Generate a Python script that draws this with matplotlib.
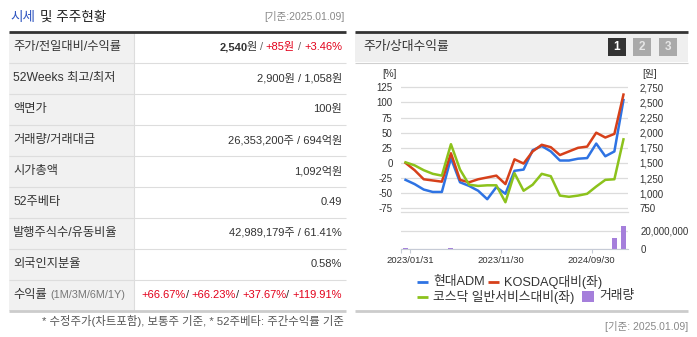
import matplotlib
matplotlib.use('Agg')
import matplotlib.pyplot as plt
from matplotlib.patches import Rectangle
from matplotlib.ticker import FuncFormatter
import numpy as np

plt.rcParams['font.family'] = ['Liberation Sans', 'Noto Sans CJK KR', 'DejaVu Sans']
plt.rcParams['axes.unicode_minus'] = False

# ---------------- data ----------------
dates = ["2023/01/09", "2023/01/31", "2023/02/28", "2023/03/31", "2023/04/28", "2023/05/31",
         "2023/06/30", "2023/07/31", "2023/08/31", "2023/09/27", "2023/10/31", "2023/11/30",
         "2023/12/28", "2024/01/31", "2024/02/29", "2024/03/29", "2024/04/30", "2024/05/31",
         "2024/06/28", "2024/07/31", "2024/08/30", "2024/09/30", "2024/10/31", "2024/11/29",
         "2025/01/09"]
hyundai = [-28, -35, -44, -48, -48, 8, -32, -38, -46, -60, -40, -51, -13, -11, 21, 28, 19, 4, 4, 7, 8,
           32, 11, 19, 104]
kosdaq_rel = [0, -12, -27, -29, -31, 16, -28, -32, -27, -24, -21, -35, 6, -1, 19, 30, 26, 13, 19, 25, 27,
              50, 42, 48, 113]
sector_rel = [1, -4, -12, -18, -21, 31, -11, -36, -38, -37, -37, -65, -17, -46, -36, -18, -22, -54, -56,
              -54, -51, -39, -28, -27, 39]
volume = [1.5e6, 0, 0, 0, 0, 1.3e6, 0, 0, 0, 0, 0, 0, 0.6e6, 0, 0, 0, 0, 0, 0, 0, 0, 0, 0,
          12.5e6, 25.5e6]
label_idx = [1, 11, 21]

row_labels = ["주가/전일대비/수익률", "52Weeks 최고/최저", "액면가", "거래량/거래대금", "시가총액",
              "52주베타", "발행주식수/유동비율", "외국인지분율", "수익률"]
row_values = [None, "2,900원 / 1,058원", "100원", "26,353,200주 / 694억원", "1,092억원", "0.49",
              "42,989,179주 / 61.41%", "0.58%", None]
returns = ["+66.67%", "+66.23%", "+37.67%", "+119.91%"]

BLUE = '#2e73e3'
RED = '#d6401a'
GREEN = '#8cc21c'
PURPLE = '#a57fdb'
TXT = '#333333'
REDTXT = '#e2001a'
VAL_FS = 8
LAB_FS = 8.8

W, H = 697, 337
fig = plt.figure(figsize=(W / 100, H / 100), dpi=100)
bg = fig.add_axes([0, 0, 1, 1])
bg.set_xlim(0, W)
bg.set_ylim(H, 0)
bg.axis('off')
r = fig.canvas.get_renderer()


def px_axes(x0, y0, x1, y1):
    return fig.add_axes([x0 / W, 1 - y1 / H, (x1 - x0) / W, (y1 - y0) / H])


def hline(x0, x1, y, color, lw):
    bg.plot([x0, x1], [y, y], color=color, lw=lw, solid_capstyle='butt')


def rich_right(x, y, segs, size=VAL_FS):
    # segs: (text, color, weight, gap_before)
    for text, color, weight, gap in reversed(segs):
        t = bg.text(x, y, text, color=color, fontweight=weight, fontsize=size, ha='right', va='center')
        bb = t.get_window_extent(renderer=r)
        x -= bb.width + gap


# ---------------- left panel ----------------
bg.text(10, 17, "시세", color='#2f55c0', fontsize=9.8, va='center', ha='left')
bg.text(40, 17, "및 주주현황", color='#222222', fontsize=9.8, va='center', ha='left')
bg.text(345, 17, "[기준:2025.01.09]", color='#888888', fontsize=7.5, va='center', ha='right')

top, rowh = 31.5, 31
bg.add_patch(Rectangle((9, top), 125, rowh * 9, color='#f1f1f1', lw=0))
for i in range(1, 9):
    hline(9, 346, top + rowh * i, '#dddddd', 0.8)
bg.plot([134, 134], [top, top + rowh * 9], color='#dddddd', lw=0.8)
hline(9, 346, top, '#333333', 2.0)
hline(9, 346, top + rowh * 9, '#cccccc', 2.0)

for i, lab in enumerate(row_labels):
    yc = top + rowh * i + rowh / 2
    t = bg.text(13, yc, lab, color=TXT, fontsize=LAB_FS, va='center', ha='left')
    if i == 8:
        bb = t.get_window_extent(renderer=r)
        bg.text(13 + bb.width + 4, yc + 0.5, "(1M/3M/6M/1Y)", color='#777777', fontsize=7.8,
                va='center', ha='left')
    v = row_values[i]
    if v is not None:
        bg.text(342, yc, v, color=TXT, fontsize=VAL_FS, va='center', ha='right')

y1 = top + rowh / 2
rich_right(342, y1, [("2,540", TXT, 'bold', 0), ("원", TXT, 'normal', -1.5), ("/", '#666666', 'normal', 3),
                     ("+85원", REDTXT, 'normal', 3), ("/", '#666666', 'normal', 3), ("+3.46%", REDTXT, 'normal', 3)])
y9 = top + rowh * 8 + rowh / 2
segs = []
for k, rv in enumerate(returns):
    segs.append((rv, REDTXT, 'normal', 0 if k == 0 else 3))
    if k < len(returns) - 1:
        segs.append(("/", TXT, 'normal', 0))
rich_right(342, y9, segs)

bg.text(344, 321, "* 수정주가(차트포함), 보통주 기준, * 52주베타: 주간수익률 기준", color='#555555',
        fontsize=8.2, va='center', ha='right')

# ---------------- right panel frame ----------------
bg.add_patch(Rectangle((355, 32), 333, 30, color='#efefef', lw=0))
hline(355, 688, 31.5, '#333333', 2.0)
hline(355, 688, 62.5, '#d0d0d0', 0.8)
bg.text(363, 47, "주가/상대수익률", color=TXT, fontsize=9.2, va='center', ha='left')
for x0, c, s in [(608, '#333333', '1'), (633, '#a9a9a9', '2'), (659, '#a9a9a9', '3')]:
    bg.add_patch(Rectangle((x0, 38), 18, 18, color=c, lw=0))
    bg.text(x0 + 9, 47.5, s, color='white' if s == '1' else '#e6e6e6', fontsize=8.5, fontweight='bold',
            ha='center', va='center')

hline(355, 688, 310.5, '#cccccc', 2.0)
bg.text(688, 326, "[기준: 2025.01.09]", color='#888888', fontsize=7.5, va='center', ha='right')

narrow = ['Liberation Sans Narrow', 'Liberation Sans', 'DejaVu Sans']
bg.text(389, 74, "[%]", color=TXT, fontsize=7, va='center', ha='center', family=narrow)
bg.text(650, 74, "[원]", color=TXT, fontsize=7, va='center', ha='center')

# ---------------- line chart ----------------
x = np.arange(len(dates))
ax = px_axes(401, 80, 628, 211.5)
ax.plot(x, hyundai, color=BLUE, lw=1.8)
ax.plot(x, kosdaq_rel, color=RED, lw=1.8)
ax.plot(x, sector_rel, color=GREEN, lw=1.8)
ax.set_xlim(-0.5, len(dates) - 0.5)
ylo, yhi = -80.3, 137.1
ax.set_ylim(ylo, yhi)
ax.set_yticks(np.arange(-75, 126, 25))
ax.set_xticks([])
ax.grid(axis='y', color='#dcdcdc', lw=0.9)
ax.set_axisbelow(True)
for s in ['top', 'left', 'right']:
    ax.spines[s].set_visible(False)
ax.spines['bottom'].set_color('#dcdcdc')
ax.spines['bottom'].set_linewidth(0.9)
ax.patch.set_alpha(0)
ax.tick_params(axis='y', length=0, pad=6, labelsize=7, labelcolor=TXT)
for lb in ax.get_yticklabels():
    lb.set_family(narrow)

ax2 = ax.twinx()
ax2.set_ylim(1500 + 10 * ylo, 1500 + 10 * yhi)
ax2.set_yticks(np.arange(750, 2751, 250))
ax2.yaxis.set_major_formatter(FuncFormatter(lambda v, p: f"{int(v):,}"))
for s in ax2.spines.values():
    s.set_visible(False)
ax2.tick_params(axis='y', length=0, pad=8, labelsize=7, labelcolor=TXT)
for lb in ax2.get_yticklabels():
    lb.set_family(narrow)

# ---------------- volume ----------------
vmax = (249.3 - 224) / 18.6 * 20e6
axv = px_axes(401, 224, 628, 249.3)
axv.bar(x, volume, width=0.55, color=PURPLE)
axv.set_xlim(-0.5, len(dates) - 0.5)
axv.set_ylim(0, vmax)
axv.yaxis.tick_right()
axv.set_yticks([0, 20e6])
axv.yaxis.set_major_formatter(FuncFormatter(lambda v, p: f"{int(v):,}"))
axv.grid(axis='y', color='#dcdcdc', lw=0.9)
axv.set_axisbelow(True)
for s in ['top', 'left', 'right']:
    axv.spines[s].set_visible(False)
axv.spines['bottom'].set_color('#c6cbd6')
axv.patch.set_alpha(0)
axv.set_xticks([-0.5] + [i - 0.5 for i in label_idx])
axv.set_xticklabels([''] + [dates[i] for i in label_idx])
axv.tick_params(axis='x', length=3, color='#c6cbd6', pad=2, labelsize=6.8, labelcolor=TXT)
axv.tick_params(axis='y', length=0, pad=9, labelsize=7, labelcolor=TXT)
for lb in axv.get_xticklabels() + axv.get_yticklabels():
    lb.set_family(narrow)

# ---------------- legend ----------------
leg_items = [(417, 282, 'line', BLUE, "현대ADM"), (488, 282, 'line', RED, "KOSDAQ대비(좌)"),
             (417, 296.5, 'line', GREEN, "코스닥 일반서비스대비(좌)"), (582, 296.5, 'box', PURPLE, "거래량")]
for lx, ly, kind, c, txt in leg_items:
    if kind == 'line':
        bg.plot([lx, lx + 11], [ly, ly], color=c, lw=2.0, solid_capstyle='butt')
        bg.text(lx + 16, ly, txt, color=TXT, fontsize=9.2, va='center', ha='left')
    else:
        bg.add_patch(Rectangle((lx, ly - 6), 11.5, 11.5, color=c, lw=0))
        bg.text(lx + 17, ly, txt, color=TXT, fontsize=9.2, va='center', ha='left')

fig.savefig('out.png', dpi=100)
